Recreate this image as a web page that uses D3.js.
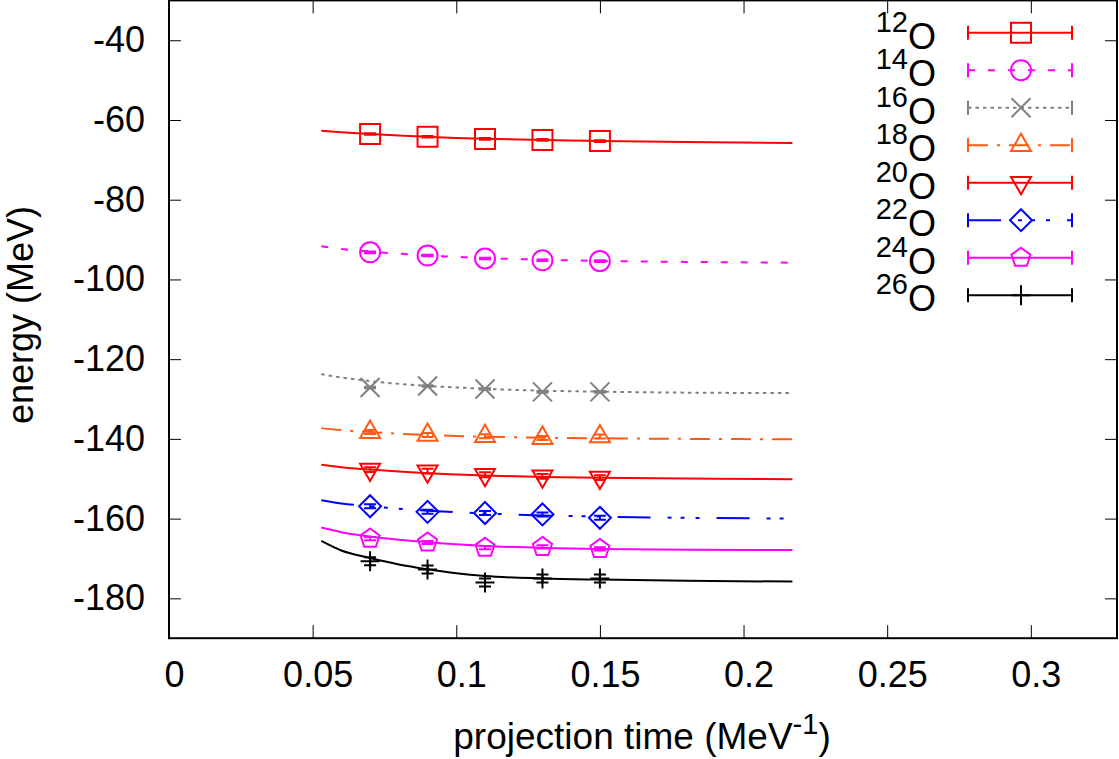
<!DOCTYPE html>
<html lang="en">
  <head>
    <meta charset="UTF-8" />
    <title>Oxygen isotopes – energy vs projection time</title>
    <script src="https://d3js.org/d3.v7.min.js"></script>
    <style>
      body {
        margin: 0;
        background: white;
      }
      svg {
        display: block;
        background: white;
        font-family: 'Liberation Sans', Arial, Helvetica, sans-serif;
      }
      .tick line {
        stroke: #000;
        stroke-width: 1;
      }
    </style>
  </head>
  <body>
    <svg width="1119" height="759"></svg>

    <script>
      // projection times of the measured points and of the fit curves
      const tData = [0.07, 0.09, 0.11, 0.13, 0.15];
      const tFit = [0.053, 0.06, 0.07, 0.08, 0.09, 0.1, 0.11, 0.13, 0.15, 0.18, 0.217];

      const xTicks = [0, 0.05, 0.1, 0.15, 0.2, 0.25, 0.3];
      const yTicks = [-40, -60, -80, -100, -120, -140, -160, -180];

      const isotopes = ['12', '14', '16', '18', '20', '22', '24', '26'];

      // energies (MeV)
      const e12O = [-63.5, -64.2, -64.75, -65.0, -65.3];
      const e14O = [-93.2, -94.0, -94.75, -95.2, -95.4];
      const e16O = [-127.1, -126.75, -127.5, -128.2, -128.2];
      const e18O = [-138.3, -139.0, -139.35, -139.8, -139.4];
      const e20O = [-147.7, -148.1, -149.0, -149.4, -149.7];
      const e22O = [-156.9, -158.3, -158.6, -158.95, -159.8];
      const e24O = [-165.0, -166.0, -167.3, -167.1, -167.6];
      const e26O = [-170.7, -172.75, -176.0, -175.0, -175.0];

      const err12O = [0.2, 0.2, 0.2, 0.2, 0.2];
      const err14O = [0.2, 0.2, 0.2, 0.2, 0.2];
      const err16O = [0.2, 0.2, 0.2, 0.2, 0.2];
      const err18O = [0.5, 0.5, 0.5, 0.5, 0.5];
      const err20O = [0.6, 0.6, 0.6, 0.6, 0.6];
      const err22O = [0.5, 0.5, 0.5, 0.5, 0.5];
      const err24O = [0.4, 0.4, 0.4, 0.4, 0.4];
      const err26O = [1.0, 1.0, 1.0, 1.0, 1.0];

      // fit curves sampled at tFit
      const fit12O = [-62.7, -63.05, -63.5, -63.9, -64.2, -64.5, -64.7, -65.05, -65.3, -65.55, -65.75];
      const fit14O = [-91.7, -92.35, -93.0, -93.55, -94.0, -94.35, -94.65, -95.05, -95.35, -95.6, -95.8];
      const fit16O = [-123.75, -124.6, -125.5, -126.2, -126.7, -127.1, -127.45, -127.9, -128.15, -128.4, -128.5];
      const fit18O = [-137.3, -137.8, -138.3, -138.7, -139.0, -139.25, -139.45, -139.7, -139.85, -140.0, -140.1];
      const fit20O = [-146.5, -147.1, -147.7, -148.2, -148.6, -148.95, -149.2, -149.55, -149.75, -149.95, -150.1];
      const fit22O = [-155.4, -156.2, -156.9, -157.5, -158.0, -158.4, -158.7, -159.2, -159.5, -159.8, -160.0];
      const fit24O = [-162.25, -163.4, -164.5, -165.3, -165.95, -166.45, -166.85, -167.35, -167.6, -167.8, -167.9];
      const fit26O = [-165.6, -168.0, -169.9, -171.5, -172.7, -173.7, -174.4, -175.0, -175.3, -175.6, -175.8];

      const energies = [e12O, e14O, e16O, e18O, e20O, e22O, e24O, e26O];
      const errors = [err12O, err14O, err16O, err18O, err20O, err22O, err24O, err26O];
      const fits = [fit12O, fit14O, fit16O, fit18O, fit20O, fit22O, fit24O, fit26O];

      // styles
      const colors = ['#ff0000', '#ff00ff', '#808080', '#ff5a14', '#ff0000', '#0000ff', '#ff00ff', '#000000'];
      const dashes = [null, '7,13', '3.5,4', '20,9,3,9', null, '33,17,4,9,4,11,4,17', null, null];
      const markers = ['square', 'circle', 'cross', 'triUp', 'triDown', 'diamond', 'pentagon', 'plus'];

      function markerPath(type) {
        switch (type) {
          case 'square':
            return 'M-10,-10h20v20h-20Z';
          case 'circle':
            return 'M10,0A10,10 0 1,1 -10,0A10,10 0 1,1 10,0Z';
          case 'cross':
            return 'M-9.5,-9.5L9.5,9.5M-9.5,9.5L9.5,-9.5';
          case 'triUp':
            return 'M0,-11.5L10,5.8L-10,5.8Z';
          case 'triDown':
            return 'M0,11.5L10,-5.8L-10,-5.8Z';
          case 'diamond':
            return 'M0,-11L11,0L0,11L-11,0Z';
          case 'pentagon': {
            const pts = d3.range(5).map((i) => {
              const a = -Math.PI / 2 + (i * 2 * Math.PI) / 5;
              return [10 * Math.cos(a), 10 * Math.sin(a)];
            });
            return 'M' + pts.map((p) => p.join(',')).join('L') + 'Z';
          }
          case 'plus':
            return 'M-9.5,0h19M0,-10v20';
        }
      }

      const series = isotopes.map((iso, i) => ({
        iso: iso,
        color: colors[i],
        dash: dashes[i],
        marker: markers[i],
        points: tData.map((t, j) => ({ t: t, e: energies[i][j], err: errors[i][j] })),
        fit: tFit.map((t, j) => ({ t: t, e: fits[i][j] })),
      }));

      const plotLeft = 169,
        plotRight = 1117,
        plotTop = 0.4,
        plotBottom = 638.2;

      const svg = d3.select('svg');

      const x = d3.scaleLinear().domain([0, 0.33]).range([plotLeft, plotRight]);
      const y = d3.scaleLinear().domain([-190, -30]).range([plotBottom, plotTop]);

      // plain hyphen minus, as in the original
      const fmt = (d) => String(+d.toFixed(2));

      // axes with inward ticks, mirrored on top and right
      const gx = svg
        .append('g')
        .attr('transform', `translate(0,${plotBottom})`)
        .call(d3.axisBottom(x).tickValues(xTicks).tickFormat(fmt).tickSizeInner(-13).tickSizeOuter(0).tickPadding(23));
      gx.selectAll('text').attr('dx', 5);

      svg
        .append('g')
        .attr('transform', `translate(${plotLeft},0)`)
        .call(d3.axisLeft(y).tickValues(yTicks).tickFormat(fmt).tickSizeInner(-12).tickSizeOuter(0).tickPadding(24));

      svg
        .append('g')
        .attr('transform', `translate(0,${plotTop})`)
        .call(d3.axisTop(x).tickValues(xTicks).tickFormat('').tickSizeInner(-13).tickSizeOuter(0));

      svg
        .append('g')
        .attr('transform', `translate(${plotRight},0)`)
        .call(d3.axisRight(y).tickValues(yTicks).tickFormat('').tickSizeInner(-12).tickSizeOuter(0));

      svg.selectAll('.domain').remove();
      svg
        .selectAll('.tick text')
        .attr('fill', '#000')
        .style('font-size', '36px')
        .style('font-family', "'Liberation Sans', Arial, Helvetica, sans-serif");

      // fit curves
      const line = d3
        .line()
        .x((d) => x(d.t))
        .y((d) => y(d.e))
        .curve(d3.curveMonotoneX);

      svg
        .append('g')
        .selectAll('path')
        .data(series)
        .join('path')
        .attr('d', (s) => line(s.fit))
        .attr('fill', 'none')
        .attr('stroke', (s) => s.color)
        .attr('stroke-width', 2)
        .attr('stroke-dasharray', (s) => s.dash);

      // error bars and markers
      const capW = 6;
      series.forEach((s) => {
        const g = svg.append('g').attr('stroke', s.color).attr('stroke-width', 2).attr('fill', 'none');
        const pts = g.selectAll('g').data(s.points).join('g');
        pts
          .append('path')
          .attr('d', (d) => {
            const px = x(d.t),
              y0 = y(d.e - d.err),
              y1 = y(d.e + d.err);
            return `M${px},${y0}V${y1}M${px - capW},${y0}H${px + capW}M${px - capW},${y1}H${px + capW}`;
          });
        pts
          .append('path')
          .attr('transform', (d) => `translate(${x(d.t)},${y(d.e)})`)
          .attr('d', markerPath(s.marker));
      });

      // legend
      const legX0 = 968,
        legX1 = 1072,
        legXm = 1021,
        legY0 = 32.7,
        legDy = 37.5;

      const leg = svg
        .append('g')
        .selectAll('g')
        .data(series)
        .join('g')
        .attr('transform', (s, i) => `translate(0,${legY0 + i * legDy})`);

      leg
        .append('path')
        .attr('d', `M${legX0},0H${legX1}`)
        .attr('stroke', (s) => s.color)
        .attr('stroke-width', 2)
        .attr('stroke-dasharray', (s) => s.dash);

      leg
        .append('path')
        .attr('d', `M${legX0},-7V7M${legX1},-7V7`)
        .attr('stroke', (s) => s.color)
        .attr('stroke-width', 2);

      leg
        .append('path')
        .attr('transform', `translate(${legXm},0)`)
        .attr('d', (s) => markerPath(s.marker))
        .attr('fill', 'none')
        .attr('stroke', (s) => s.color)
        .attr('stroke-width', 2);

      const lt = leg
        .append('text')
        .attr('x', 936)
        .attr('y', 16)
        .attr('text-anchor', 'end')
        .style('font-size', '36px');
      lt.append('tspan')
        .attr('dy', -17)
        .style('font-size', '29px')
        .text((s) => s.iso);
      lt.append('tspan').attr('dy', 17).text('O');

      // frame
      svg
        .append('rect')
        .attr('x', plotLeft)
        .attr('y', plotTop)
        .attr('width', plotRight - plotLeft)
        .attr('height', plotBottom - plotTop)
        .attr('fill', 'none')
        .attr('stroke', '#000')
        .attr('stroke-width', 2);

      // axis titles
      svg
        .append('text')
        .attr('transform', 'translate(33,315) rotate(-90)')
        .attr('text-anchor', 'middle')
        .style('font-size', '36px')
        .text('energy (MeV)');

      const xt = svg
        .append('text')
        .attr('x', 642)
        .attr('y', 749)
        .attr('text-anchor', 'middle')
        .style('font-size', '37px');
      xt.append('tspan').text('projection time (MeV');
      xt.append('tspan').attr('dy', -15).style('font-size', '29px').text('-1');
      xt.append('tspan').attr('dy', 15).text(')');
    </script>
  </body>
</html>
